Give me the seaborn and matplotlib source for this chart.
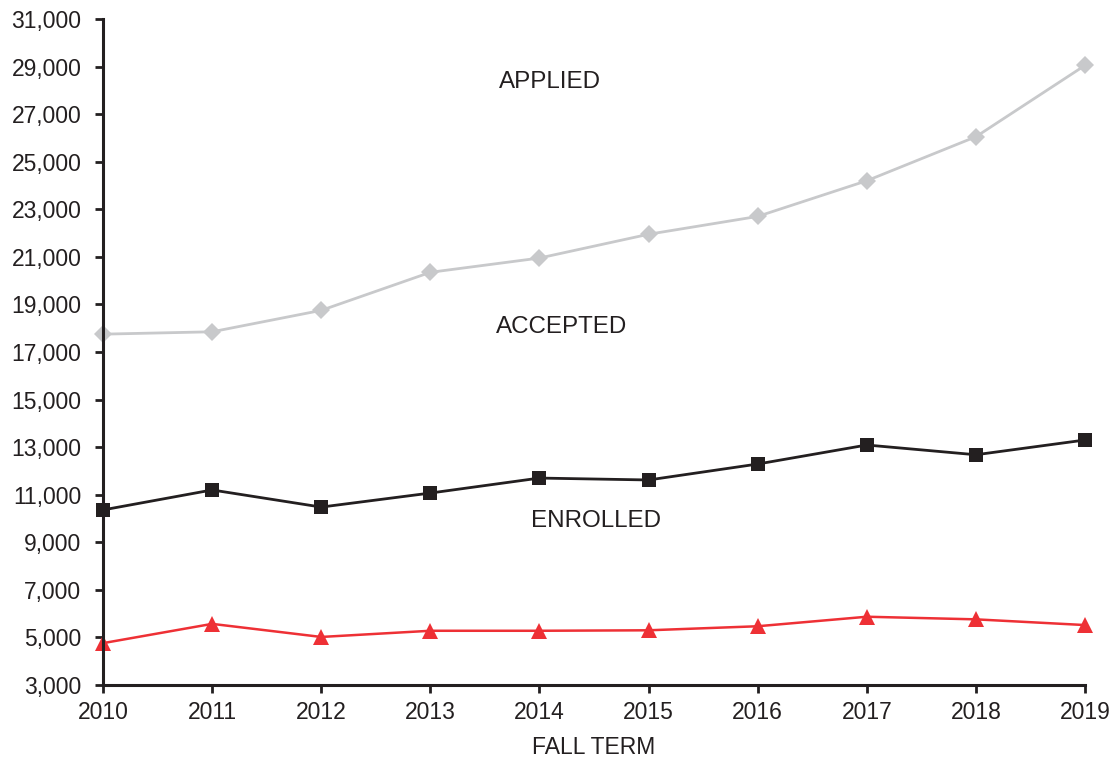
import matplotlib
matplotlib.use("Agg")
import matplotlib.pyplot as plt
import seaborn as sns
import pandas as pd
from matplotlib.ticker import FuncFormatter

# Fall-term admissions funnel
years = [2010, 2011, 2012, 2013, 2014, 2015, 2016, 2017, 2018, 2019]
applied = [17750, 17850, 18750, 20350, 20950, 21950, 22700, 24200, 26050, 29050]
accepted = [10360, 11200, 10480, 11070, 11700, 11620, 12290, 13090, 12680, 13300]
enrolled = [4760, 5570, 5020, 5280, 5280, 5300, 5470, 5870, 5760, 5520]

y_ticks = list(range(3000, 31001, 2000))

sns.set_style("ticks")
plt.rcParams["font.family"] = ["Liberation Sans", "DejaVu Sans"]

ink = "#231f20"
series = [
    ("APPLIED", applied, "#c8c9cb", "D", 9.5, 2.0),
    ("ACCEPTED", accepted, ink, "s", 10.5, 2.0),
    ("ENROLLED", enrolled, "#ee3035", "^", 11.5, 1.8),
]

fig = plt.figure(figsize=(11.17, 7.63), dpi=100)
ax = fig.add_axes([103 / 1117, 1 - 685 / 763, (1085 - 103) / 1117, (685 - 19) / 763])

for name, vals, color, marker, ms, lw in series:
    df = pd.DataFrame({"year": years, "count": vals})
    sns.lineplot(data=df, x="year", y="count", ax=ax, color=color, marker=marker,
                 markersize=ms, markeredgewidth=0, linewidth=lw, clip_on=False)

ax.set_xlim(2010, 2019)
ax.set_ylim(3000, 31000)
ax.set_xticks(years)
ax.set_yticks(y_ticks)
ax.yaxis.set_major_formatter(FuncFormatter(lambda v, p: f"{int(v):,}"))

for side in ("top", "right"):
    ax.spines[side].set_visible(False)
for side in ("left", "bottom"):
    ax.spines[side].set_color(ink)
    ax.spines[side].set_linewidth(2.2)

ax.tick_params(axis="both", colors=ink, labelcolor=ink, labelsize=16.5,
               length=5.5, width=2.0, direction="out")
ax.tick_params(axis="y", pad=10)
ax.tick_params(axis="x", pad=6)

ax.set_xlabel("FALL TERM", fontsize=16.5, color=ink, labelpad=9)
ax.set_ylabel("")

ax.text(2014.1, 28350, "APPLIED", ha="center", va="center", fontsize=17.4, color=ink)
ax.text(2014.2, 18050, "ACCEPTED", ha="center", va="center", fontsize=17.4, color=ink)
ax.text(2014.52, 9900, "ENROLLED", ha="center", va="center", fontsize=17.4, color=ink)

fig.savefig("out.png", dpi=100)
